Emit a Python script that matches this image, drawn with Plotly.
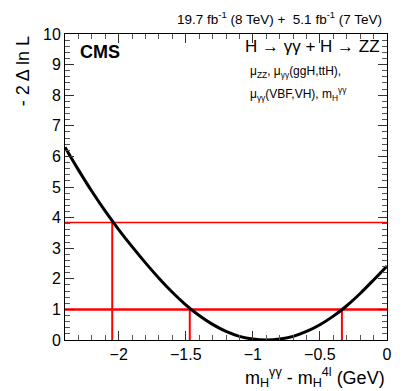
import plotly.graph_objects as go

# likelihood scan
dm = [-2.4, -2.3, -2.2, -2.1, -2.0, -1.9, -1.8, -1.7, -1.6, -1.5, -1.4, -1.3, -1.2,
      -1.1, -1.0, -0.9, -0.8, -0.7, -0.6, -0.5, -0.4, -0.3, -0.2, -0.1, 0.0]
nll = [6.30, 5.56, 4.86, 4.21, 3.61, 3.05, 2.52, 2.02, 1.56, 1.15, 0.80, 0.51, 0.28,
       0.12, 0.03, 0.0, 0.03, 0.12, 0.28, 0.50, 0.78, 1.12, 1.52, 1.96, 2.42]

# confidence levels and where the curve crosses them
cl_levels = [1.0, 3.84]
cl_widths = [2.5, 1.5]
crossings = [-1.47, -0.336, -2.048]
crossing_level = [1.0, 1.0, 3.84]

x_range = [-2.4, 0.0]
y_range = [0, 10]

fig = go.Figure()

red = "#ff0000"
for lvl, w in zip(cl_levels, cl_widths):
    fig.add_trace(go.Scatter(x=x_range, y=[lvl, lvl], mode="lines",
                             line=dict(color=red, width=w), showlegend=False))
for c, lvl in zip(crossings, crossing_level):
    fig.add_trace(go.Scatter(x=[c, c], y=[0, lvl], mode="lines",
                             line=dict(color=red, width=2), showlegend=False))

fig.add_trace(go.Scatter(x=dm, y=nll, mode="lines", line=dict(color="black", width=3, shape="spline"),
                         showlegend=False))

font = "Liberation Sans, Arial, sans-serif"
axis = dict(showgrid=False, zeroline=False, showline=True, linecolor="black", linewidth=1,
            mirror="ticks", ticks="inside", ticklen=9, tickcolor="#333",
            tickfont=dict(family=font, size=16, color="black"))

fig.update_xaxes(range=x_range, dtick=0.5, tick0=0,
                 minor=dict(ticks="inside", dtick=0.1, ticklen=5, tickcolor="#555"), **axis)
fig.update_yaxes(range=y_range, dtick=1, tick0=0,
                 minor=dict(ticks="inside", dtick=0.2, ticklen=5, tickcolor="#555"), **axis)

ann = [
    dict(text="19.7 fb<sup>-1</sup> (8 TeV) +  5.1 fb<sup>-1</sup> (7 TeV)", x=0.99, y=1.053,
         xanchor="right", yanchor="middle", font=dict(size=13.5)),
    dict(text="<b>CMS</b>", x=0.04, y=0.941, xanchor="left", yanchor="middle", font=dict(size=18)),
    dict(text="H → γγ + H → ZZ", x=0.984, y=0.96, xanchor="right", yanchor="middle",
         font=dict(size=17)),
    dict(text="μ<sub>ZZ</sub>, μ<sub>γγ</sub>(ggH,ttH),", x=0.568, y=0.876, xanchor="left",
         yanchor="middle", font=dict(size=12)),
    dict(text="μ<sub>γγ</sub>(VBF,VH), m<sub>H</sub><sup>γγ</sup>", x=0.568, y=0.804,
         xanchor="left", yanchor="middle", font=dict(size=12)),
    dict(text="m<sub>H</sub><sup>γγ</sup> - m<sub>H</sub><sup>4l</sup> (GeV)", x=1.0, y=-0.124,
         xanchor="right", yanchor="middle", font=dict(size=18)),
    dict(text="- 2 Δ ln L", x=-0.13, y=1.0, xanchor="center", yanchor="top", textangle=-90,
         font=dict(size=18)),
]
for a in ann:
    a.update(xref="paper", yref="paper", showarrow=False)
    a["font"].update(family=font, color="black")
    fig.add_annotation(**a)

# page body has an 8px margin, so the figure is 8px smaller than the window
fig.update_layout(width=399, height=383, margin=dict(l=57, r=20, t=26, b=51),
                  plot_bgcolor="white", paper_bgcolor="white",
                  font=dict(family=font, color="black"))

fig.write_html("out.html")
